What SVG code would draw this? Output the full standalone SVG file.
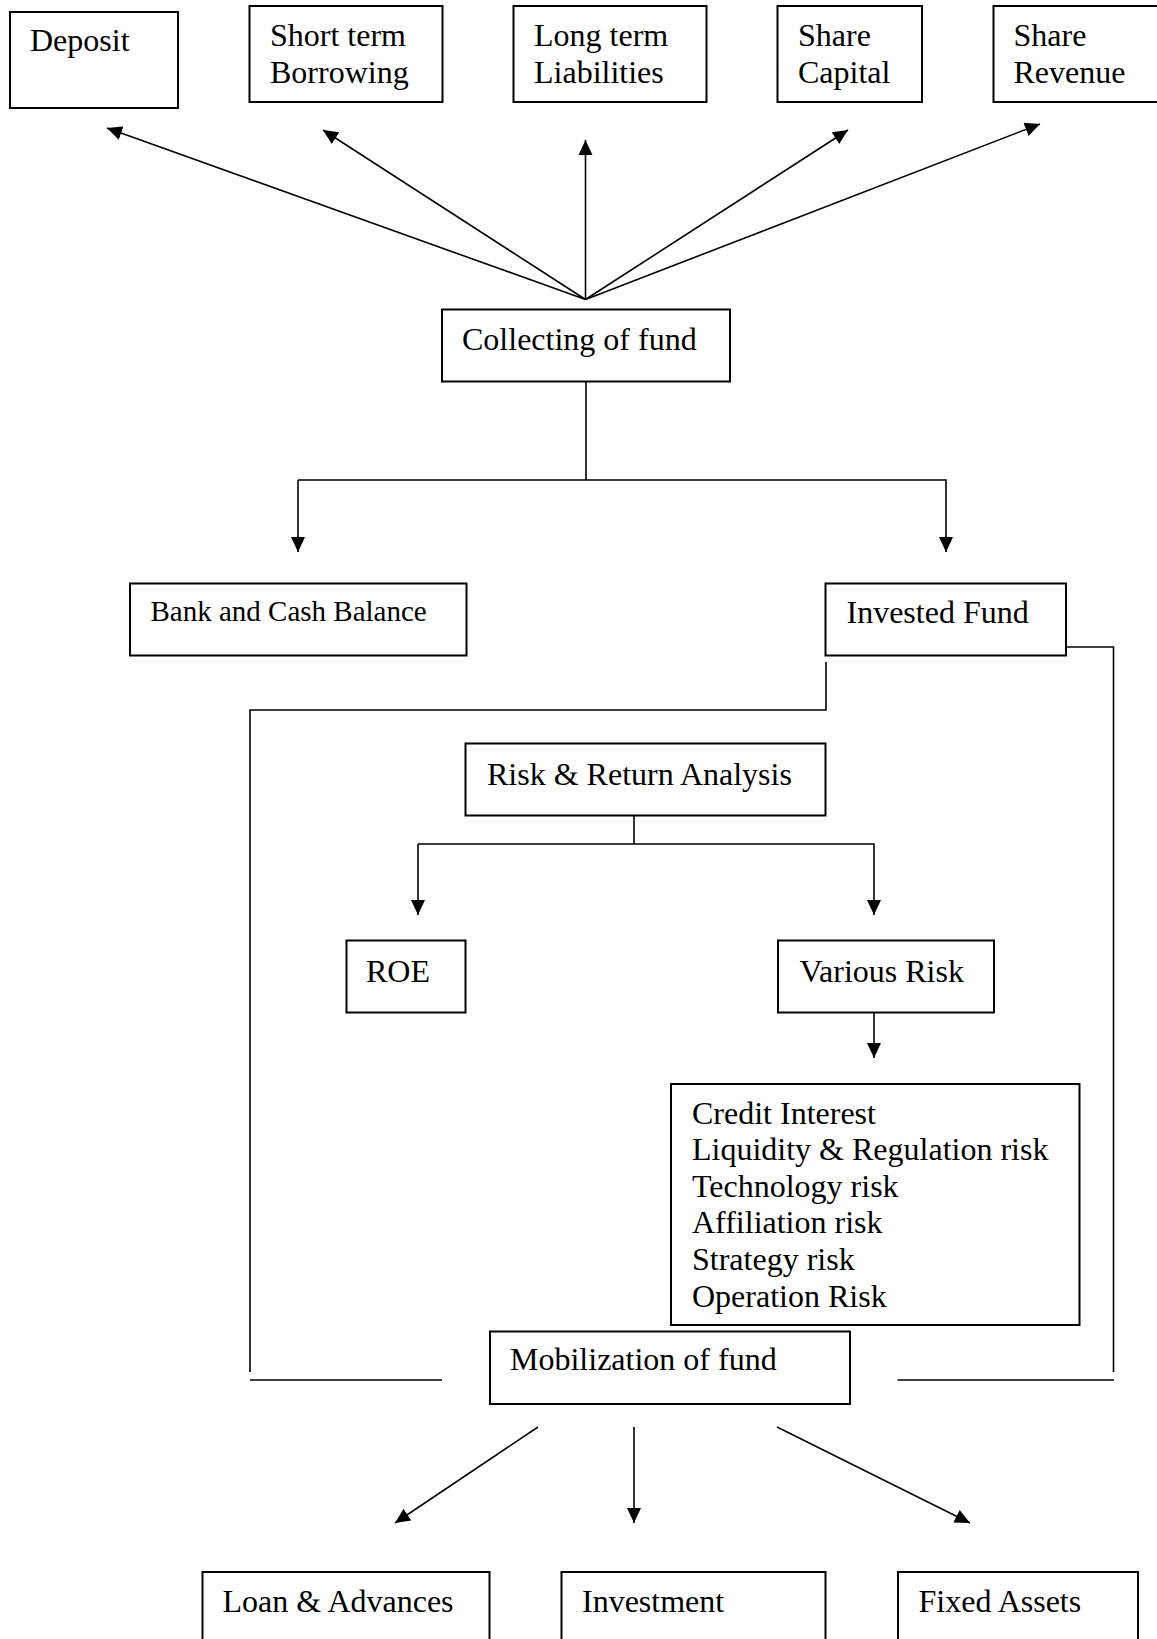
<svg xmlns="http://www.w3.org/2000/svg" width="1157" height="1639" viewBox="0 0 1157 1639">
<style>
.box{fill:#fff;stroke:#000;stroke-width:2}
.t{font-family:"Liberation Serif","Times New Roman",serif;font-size:32px;fill:#000}
.s{font-size:29px}
.c{fill:none;stroke:#000;stroke-width:1.6}
.a{marker-end:url(#ah)}
</style>
<defs>
<marker id="ah" markerUnits="userSpaceOnUse" markerWidth="16" markerHeight="15" refX="15" refY="7" orient="auto" viewBox="0 0 16 14">
<path d="M0,0 L15,7 L0,14 z" fill="#000"/>
</marker>
</defs>
<rect width="1157" height="1639" fill="#fff"/>
<g id="connectors">
<line class="c a" x1="585.5" y1="299.5" x2="107" y2="128"/>
<line class="c a" x1="585.5" y1="299.5" x2="323" y2="130"/>
<line class="c a" x1="585.5" y1="299.5" x2="585.5" y2="140"/>
<line class="c a" x1="585.5" y1="299.5" x2="848" y2="130"/>
<line class="c a" x1="585.5" y1="299.5" x2="1040" y2="124"/>
<polyline class="c" points="586,381 586,480"/>
<polyline class="c a" points="298,480 298,552"/>
<polyline class="c a" points="298,480 946,480 946,552"/>
<polyline class="c" points="1066,647 1113.5,647 1113.5,1372"/>
<polyline class="c" points="826,662 826,710 250,710 250,1372"/>
<line class="c" x1="250" y1="1380" x2="442" y2="1380"/>
<line class="c" x1="897.5" y1="1380" x2="1114" y2="1380"/>
<polyline class="c" points="634,816 634,844"/>
<polyline class="c a" points="418,844 418,915"/>
<polyline class="c a" points="418,844 874,844 874,915"/>
<line class="c a" x1="874" y1="1013" x2="874" y2="1058"/>
<line class="c a" x1="538" y1="1427" x2="395" y2="1523"/>
<line class="c a" x1="634" y1="1427" x2="634" y2="1523"/>
<line class="c a" x1="777" y1="1427" x2="970" y2="1523"/>
</g>
<g id="deposit"><rect class="box" x="10" y="12" width="168" height="96"/><text class="t" x="30" y="51">Deposit</text></g>
<g id="short-term"><rect class="box" x="249.5" y="6" width="193" height="96"/><text class="t" x="270" y="46">Short term</text><text class="t" x="270" y="83">Borrowing</text></g>
<g id="long-term"><rect class="box" x="513.5" y="6" width="193" height="96"/><text class="t" x="534" y="46">Long term</text><text class="t" x="534" y="83">Liabilities</text></g>
<g id="share-capital"><rect class="box" x="777.5" y="6" width="144.5" height="96"/><text class="t" x="798" y="46">Share</text><text class="t" x="798" y="83">Capital</text></g>
<g id="share-revenue"><rect class="box" x="993.5" y="6" width="180" height="96"/><text class="t" x="1013.5" y="46">Share</text><text class="t" x="1013.5" y="83">Revenue</text></g>
<g id="collecting"><rect class="box" x="442" y="309.5" width="288" height="72"/><text class="t" x="462" y="350">Collecting of fund</text></g>
<g id="bank-cash"><rect class="box" x="130" y="583.5" width="336.5" height="72"/><text class="t s" x="150.5" y="621">Bank and Cash Balance</text></g>
<g id="invested"><rect class="box" x="825.5" y="583.5" width="240.5" height="72"/><text class="t" x="846.5" y="623">Invested Fund</text></g>
<g id="risk-return"><rect class="box" x="465.5" y="743.5" width="360" height="72"/><text class="t" x="487" y="785">Risk &amp; Return Analysis</text></g>
<g id="roe"><rect class="box" x="346.5" y="940.5" width="119" height="72"/><text class="t" x="366" y="982">ROE</text></g>
<g id="various-risk"><rect class="box" x="778" y="940.5" width="216" height="72"/><text class="t" x="799.5" y="982">Various Risk</text></g>
<g id="risk-list"><rect class="box" x="671" y="1084" width="408.5" height="241"/>
<text class="t" x="692" y="1123.5">Credit Interest</text>
<text class="t" x="692" y="1160">Liquidity &amp; Regulation risk</text>
<text class="t" x="692" y="1196.5">Technology risk</text>
<text class="t" x="692" y="1233">Affiliation risk</text>
<text class="t" x="692" y="1270">Strategy risk</text>
<text class="t" x="692" y="1306.5">Operation Risk</text></g>
<g id="mobilization"><rect class="box" x="490" y="1331.5" width="360" height="72.5"/><text class="t" x="510" y="1370">Mobilization of fund</text></g>
<g id="loan"><rect class="box" x="202.5" y="1572" width="287" height="90"/><text class="t" x="222.5" y="1612">Loan &amp; Advances</text></g>
<g id="investment"><rect class="box" x="561.5" y="1572" width="264" height="90"/><text class="t" x="582" y="1612">Investment</text></g>
<g id="fixed-assets"><rect class="box" x="898" y="1572" width="240" height="90"/><text class="t" x="918.5" y="1612">Fixed Assets</text></g>
</svg>
